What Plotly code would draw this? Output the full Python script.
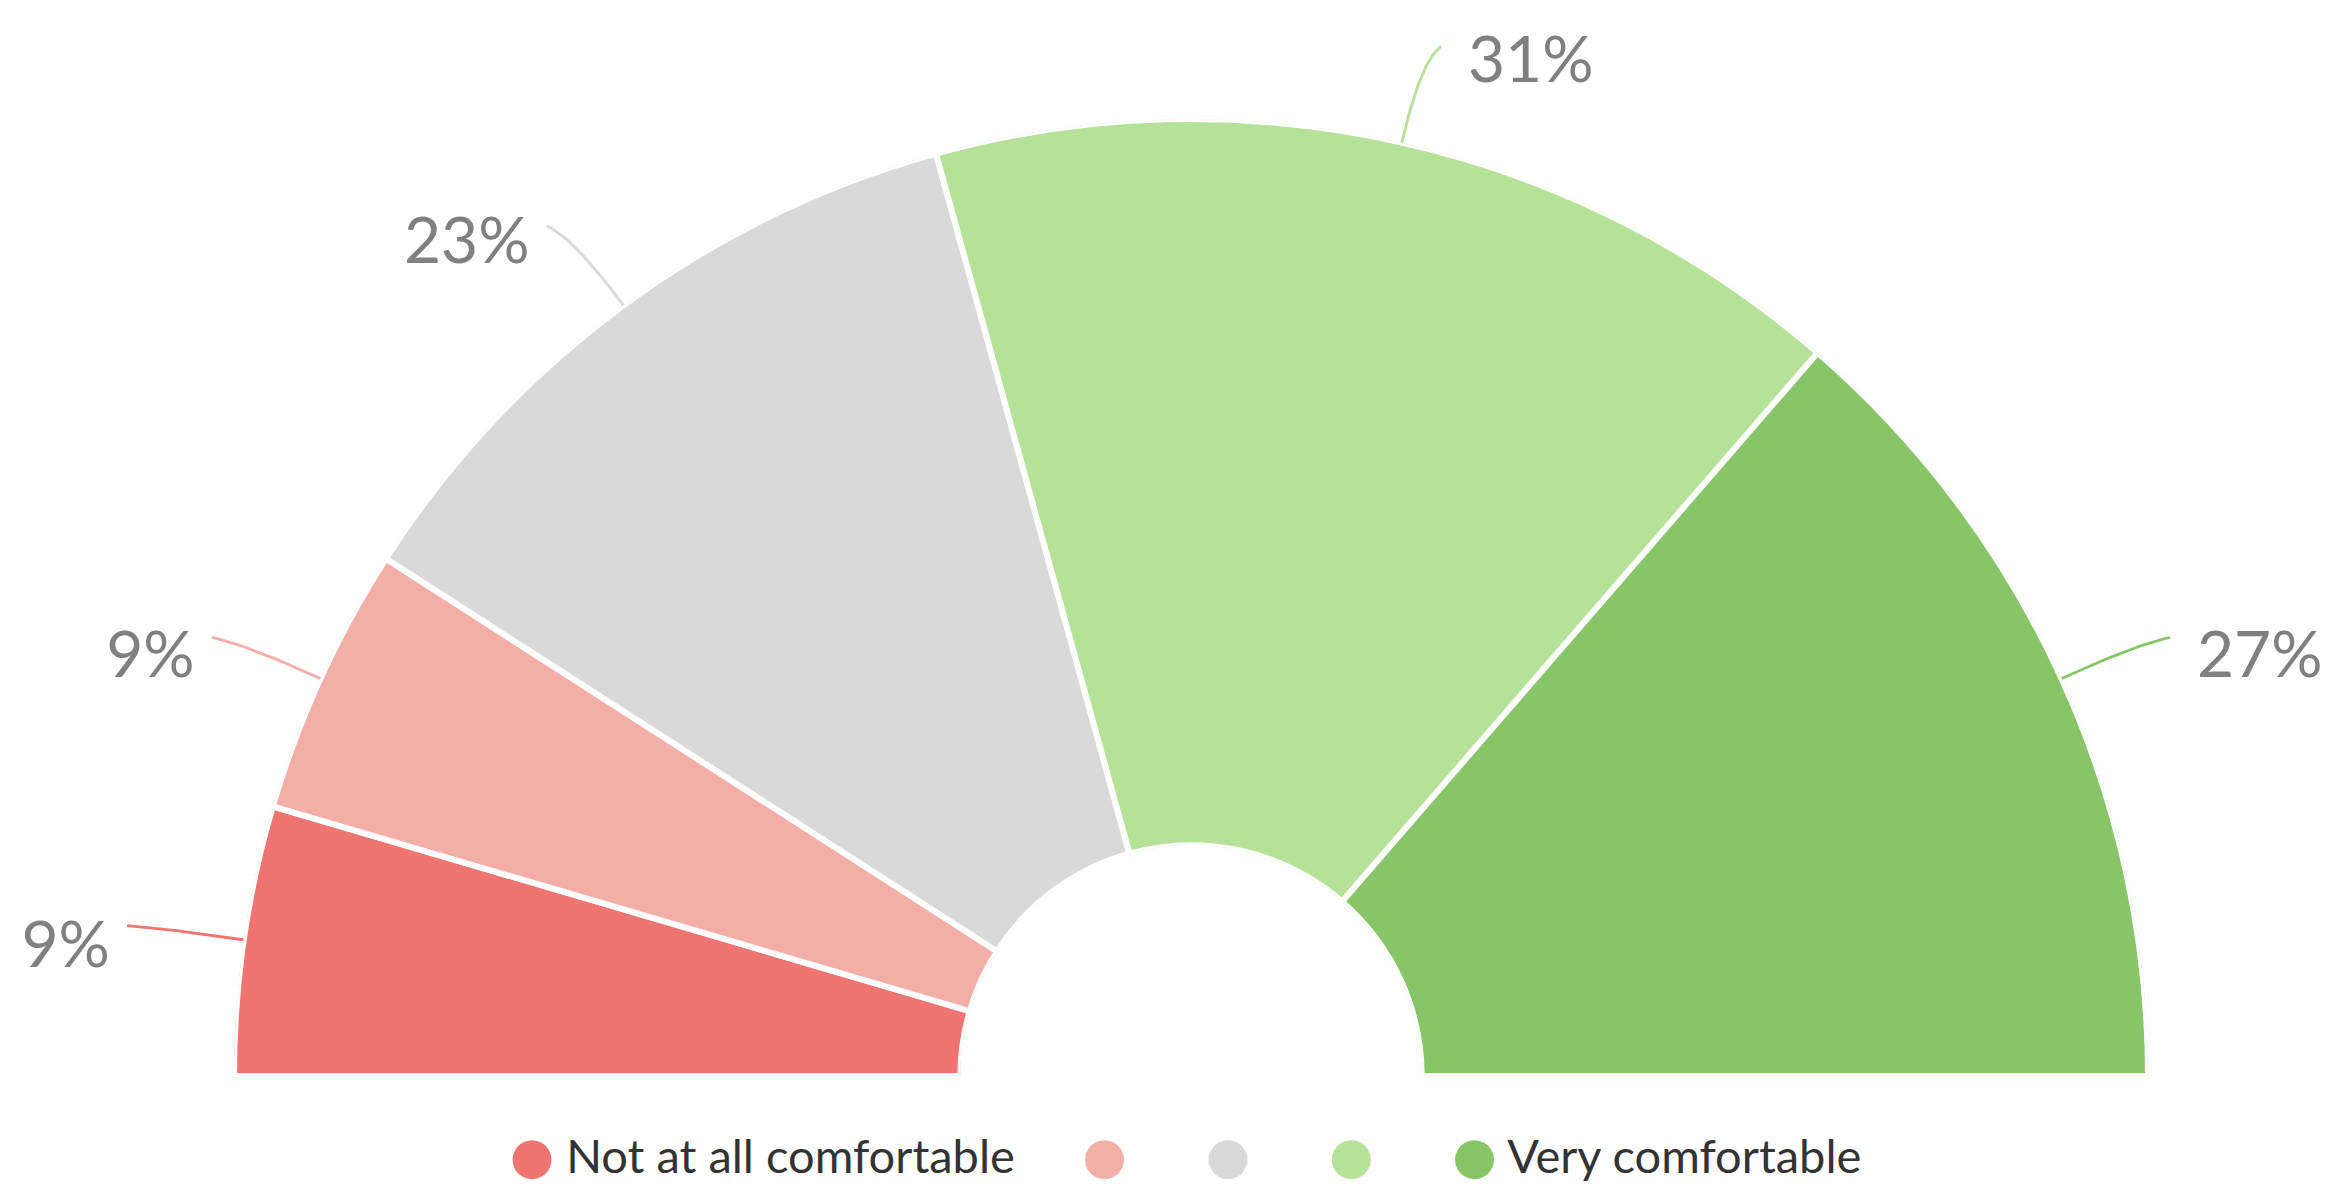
import numpy as np
import plotly.graph_objects as go

# ---- data ----
categories = ["Not at all comfortable", "", "", "", "Very comfortable"]
values = [9, 9, 23, 31, 27]
value_labels = ["9%", "9%", "23%", "31%", "27%"]
colors = ["#f07471", "#f3aea8", "#d9d9d9", "#b6e198", "#88c569"]

# ---- layout geometry (pixels) ----
W, H = 2327, 1188
CX, CY, R = 1191.0, 1076.0, 957.0   # pie centre (from top-left) and outer radius
HOLE = 0.241

total = float(sum(values))
widths = [v / total * 180.0 for v in values]
starts = np.cumsum([0.0] + widths[:-1])
mids = [s + w / 2.0 for s, w in zip(starts, widths)]


def to_xy(rho, theta):
    t = np.radians(theta)
    return np.array([-rho * np.cos(t), rho * np.sin(t)])


fig = go.Figure()

for cat, v, c, s, w, m in zip(categories, values, colors, starts, widths, mids):
    fig.add_trace(go.Barpolar(
        r=[1.0], theta=[m], width=[w], base=0,
        marker=dict(color=c, line=dict(color="white", width=6)),
        showlegend=False, hoverinfo="skip"))

# leader lines and labels (cartesian overlay, unit = outer radius)
for lab, c, m in zip(value_labels, colors, mids):
    side = -1 if m < 90 else 1
    t_rad = np.radians(m)
    p0 = to_xy(0.995, m)
    pc = to_xy(1.088, m)
    pe = pc + np.array([side * (0.018 + 0.017 * abs(np.cos(t_rad))),
                        0.015 * np.sin(t_rad)])
    tt = np.linspace(0, 1, 30)
    pts = np.array([(1 - t) ** 2 * p0 + 2 * (1 - t) * t * pc + t ** 2 * pe for t in tt])
    fig.add_trace(go.Scatter(
        x=pts[:, 0], y=pts[:, 1], mode="lines", line=dict(color=c, width=2.8),
        cliponaxis=False, showlegend=False, hoverinfo="skip"))
    gap = 0.018 if side < 0 else 0.028
    txy = pe + np.array([side * gap, -0.026 + 0.006 * np.sin(t_rad) ** 2])
    fig.add_trace(go.Scatter(
        x=[txy[0]], y=[txy[1]], mode="text", text=[lab],
        textposition="middle left" if side < 0 else "middle right",
        textfont=dict(family="Lato", size=64, color="#808080"),
        cliponaxis=False, showlegend=False, hoverinfo="skip"))

# legend entries
for i, (cat, c) in enumerate(zip(categories, colors)):
    dot = ('<span style="font-family:DejaVu Sans;font-size:51px;color:%s">\u25cf</span>' % c)
    if cat:
        name = dot + "\u00a0" + cat
        if i < len(categories) - 1:
            name += '<span style="font-size:44px">\u00a0\u00a0</span>'
    else:
        name = dot + '<span style="font-size:44px">\u00a0\u00a0\u00a0</span>'
    fig.add_trace(go.Scatter(
        x=[0], y=[0], mode="markers", name=name,
        marker=dict(color="rgba(0,0,0,0)", size=1),
        showlegend=True, hoverinfo="skip"))

fig.update_layout(
    width=W, height=H,
    margin=dict(l=0, r=0, t=0, b=0, autoexpand=False),
    paper_bgcolor="white", plot_bgcolor="rgba(0,0,0,0)",
    polar=dict(
        domain=dict(x=[(CX - R) / W, (CX + R) / W], y=[(H - CY) / H, (H - CY + R) / H]),
        sector=[0, 180],
        hole=HOLE,
        bgcolor="white",
        radialaxis=dict(range=[0, 1], visible=False),
        angularaxis=dict(visible=False, rotation=180, direction="clockwise",
                         thetaunit="degrees"),
        bargap=0,
    ),
    xaxis=dict(domain=[0, 1], range=[(0 - CX) / R, (W - CX) / R], visible=False,
               fixedrange=True),
    yaxis=dict(domain=[0, 1], range=[(CY - H) / R, CY / R], visible=False,
               fixedrange=True),
    legend=dict(orientation="h", x=0.502, xanchor="center", y=0.028, yanchor="middle",
                font=dict(family="Lato", size=47, color="#333333"),
                itemclick=False, itemdoubleclick=False, bgcolor="rgba(0,0,0,0)"),
    showlegend=True,
)

fig.write_html("out.html", config={"displayModeBar": False},
               post_script="document.body.style.margin='0';")
